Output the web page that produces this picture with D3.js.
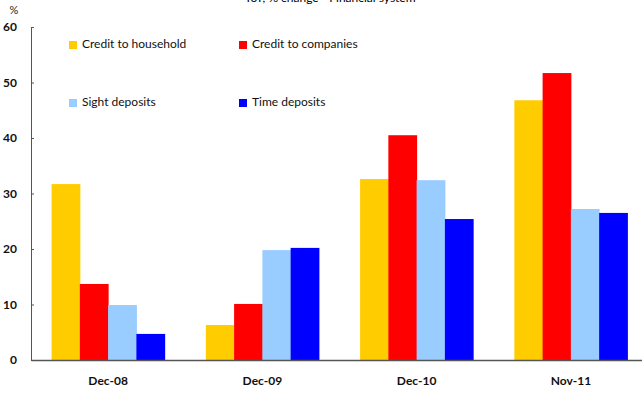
<!DOCTYPE html>
<html>
<head>
<meta charset="utf-8">
<script src="https://cdn.jsdelivr.net/npm/d3@7"></script>
<style>
  body { margin: 0; background: #fff; }
  svg { display: block; font-family: Lato, "Open Sans", sans-serif; }
</style>
</head>
<body>
<div id="chart"></div>
<script>
const periods = ["Dec-08", "Dec-09", "Dec-10", "Nov-11"];
const seriesNames = ["Credit to household", "Credit to companies", "Sight deposits", "Time deposits"];
const seriesColors = ["#FFCC00", "#FF0000", "#99CCFF", "#0000FF"];
const household = [31.7, 6.3, 32.6, 46.8];
const companies = [13.7, 10.1, 40.5, 51.7];
const sight = [9.9, 19.8, 32.4, 27.2];
const time = [4.7, 20.2, 25.4, 26.5];
const yTicks = [0, 10, 20, 30, 40, 50, 60];

const seriesValues = [household, companies, sight, time];

const W = 642, H = 394;
const margin = {top: 27, right: -6, bottom: 34, left: 31};
const width = W - margin.left - margin.right,
    height = H - margin.top - margin.bottom;

const svg = d3.select("#chart")
    .append("svg")
        .attr("width", W)
        .attr("height", H);

// title, clipped at the top edge like the source
svg.append("text")
    .attr("x", 330)
    .attr("y", 2)
    .style("text-anchor", "middle")
    .style("font-size", "12px")
    .style("fill", "#000")
    .text("YoY, % change - Financial system");

svg.append("text")
    .attr("x", 14)
    .attr("y", 14)
    .style("text-anchor", "middle")
    .style("font-size", "11px")
    .style("fill", "#222")
    .text("%");

const g = svg.append("g")
    .attr("transform", "translate(" + margin.left + "," + margin.top + ")");

const x0 = d3.scaleBand()
    .domain(periods)
    .range([0, width])
    .paddingInner(0.267)
    .paddingOuter(0.1335);

const x1 = d3.scaleBand()
    .domain(seriesNames)
    .range([0, x0.bandwidth()]);

const y = d3.scaleLinear()
    .domain([0, 60])
    .range([height, 0]);

const groups = g.selectAll(".period")
    .data(periods)
    .join("g")
        .attr("class", "period")
        .attr("transform", d => "translate(" + x0(d) + ",0)");

groups.selectAll("rect")
    .data((p, i) => seriesNames.map((s, j) => ({s: s, v: seriesValues[j][i], c: seriesColors[j]})))
    .join("rect")
        .attr("x", d => x1(d.s))
        .attr("y", d => y(d.v))
        .attr("width", x1.bandwidth() + 0.5)
        .attr("height", d => y(0) - y(d.v))
        .attr("fill", d => d.c);

// y axis
const yAxis = g.append("g")
    .call(d3.axisLeft(y).tickValues(yTicks).tickSize(-3).tickPadding(14).tickSizeOuter(0));
yAxis.select(".domain").attr("stroke", "#555");
yAxis.selectAll(".tick line").attr("stroke", "#555");
yAxis.selectAll(".tick text")
    .style("font-size", "12px")
    .style("font-weight", 700)
    .style("fill", "#111")
    .style("font-family", "Lato, sans-serif");

// x axis
const xAxis = g.append("g")
    .attr("transform", "translate(0," + height + ")")
    .call(d3.axisBottom(x0).tickSize(0).tickPadding(16));
xAxis.select(".domain").attr("stroke", "#555").attr("stroke-width", 1.5);
xAxis.selectAll(".tick text")
    .style("font-size", "12px")
    .style("font-weight", 700)
    .style("fill", "#111")
    .style("font-family", "Lato, sans-serif");

// legend
const legendPos = [[69, 41], [239, 41], [69, 99], [239, 99]];
const legend = svg.selectAll(".legend")
    .data(seriesNames)
    .join("g")
        .attr("class", "legend")
        .attr("transform", (d, i) => "translate(" + legendPos[i][0] + "," + legendPos[i][1] + ")");

legend.append("rect")
    .attr("width", 8)
    .attr("height", 8)
    .attr("fill", (d, i) => seriesColors[i]);

legend.append("text")
    .attr("x", 13)
    .attr("y", 4)
    .style("dominant-baseline", "middle")
    .style("font-size", "12px")
    .style("fill", "#111")
    .text(d => d);
</script>
</body>
</html>
